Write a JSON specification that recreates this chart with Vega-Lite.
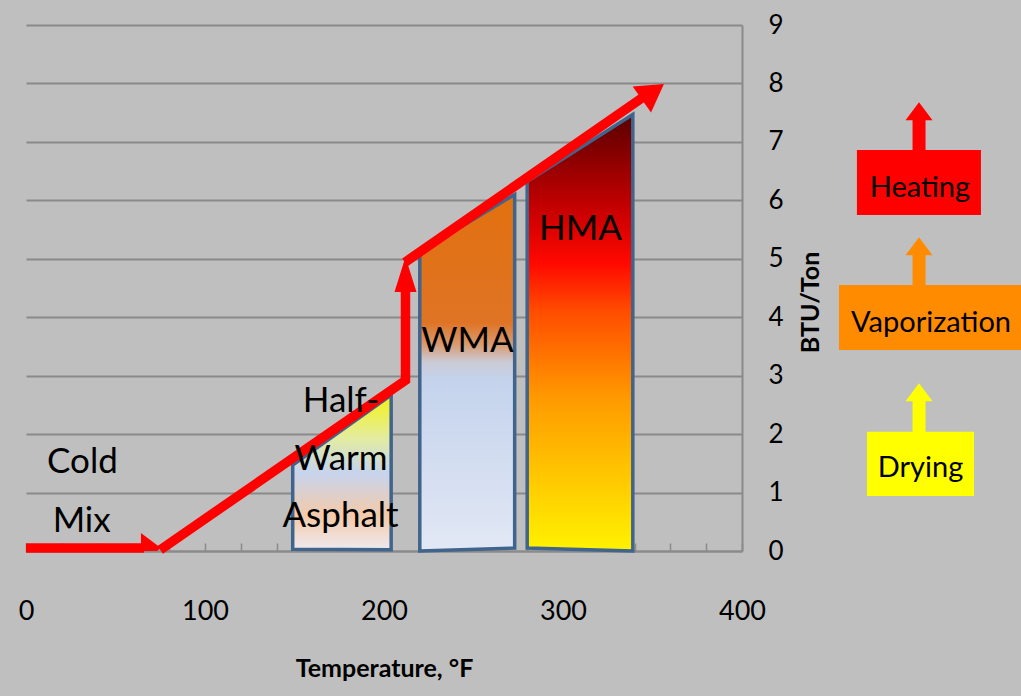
{
  "$schema": "https://vega.github.io/schema/vega-lite/v6.json",
  "width": 716,
  "height": 526,
  "autosize": {"type": "none"},
  "padding": {"left": 26, "top": 25, "right": 279, "bottom": 145},
  "background": "#bfbfbf",
  "config": {
    "view": {"stroke": null},
    "font": "Lato, sans-serif",
    "text": {"font": "Lato, sans-serif"}
  },
  "datasets": {
    "mixes": [
      {"mix": "Half-Warm", "temp": 149, "btu": 1.47, "base": 0.03},
      {"mix": "Half-Warm", "temp": 204, "btu": 2.67, "base": 0.02},
      {"mix": "WMA", "temp": 220, "btu": 5.12, "base": 0.0},
      {"mix": "WMA", "temp": 273, "btu": 6.1, "base": 0.05},
      {"mix": "HMA", "temp": 280, "btu": 6.32, "base": 0.05},
      {"mix": "HMA", "temp": 339, "btu": 7.47, "base": 0.0}
    ],
    "arrowPath": [
      {"seg": "cold", "step": 1, "temp": 0, "btu": 0.05},
      {"seg": "cold", "step": 2, "temp": 66, "btu": 0.05},
      {"seg": "rise", "step": 1, "temp": 75, "btu": 0.02},
      {"seg": "rise", "step": 2, "temp": 212, "btu": 2.92},
      {"seg": "rise", "step": 3, "temp": 212, "btu": 4.5},
      {"seg": "climb", "step": 1, "temp": 211.7, "btu": 4.94},
      {"seg": "climb", "step": 2, "temp": 346, "btu": 7.79}
    ],
    "arrowTips": [
      {"seg": "cold", "temp": 75.4, "btu": 0.05},
      {"seg": "rise", "temp": 212, "btu": 5.03},
      {"seg": "climb", "temp": 356.4, "btu": 7.99}
    ],
    "mixLabels": [
      {"text": "Cold", "temp": 31.5, "btu": 1.335},
      {"text": "Mix", "temp": 31.1, "btu": 0.325},
      {"text": "Half-", "temp": 176, "btu": 2.38},
      {"text": "Warm", "temp": 176, "btu": 1.386},
      {"text": "Asphalt", "temp": 175.7, "btu": 0.41},
      {"text": "WMA", "temp": 246.6, "btu": 3.405},
      {"text": "HMA", "temp": 309.8, "btu": 5.32}
    ],
    "stageBoxes": [
      {"stage": "Heating", "temp": 464.2, "temp_end": 533.5, "btu": 5.75, "btu_end": 6.86},
      {"stage": "Vaporization", "temp": 454.2, "temp_end": 556, "btu": 3.44, "btu_end": 4.55},
      {"stage": "Drying", "temp": 469.8, "temp_end": 529.6, "btu": 0.94, "btu_end": 2.04}
    ],
    "stageShafts": [
      {"stage": "Heating", "temp": 498.9, "btu": 6.85, "btu_end": 7.4},
      {"stage": "Vaporization", "temp": 498.9, "btu": 4.54, "btu_end": 5.11},
      {"stage": "Drying", "temp": 498.9, "btu": 2.03, "btu_end": 2.6}
    ],
    "stageTips": [
      {"stage": "Heating", "temp": 498.9, "btu": 7.68},
      {"stage": "Vaporization", "temp": 498.9, "btu": 5.37},
      {"stage": "Drying", "temp": 498.9, "btu": 2.87}
    ],
    "stageLabels": [
      {"stage": "Heating", "temp": 499.4, "btu": 6.06},
      {"stage": "Vaporization", "temp": 505.6, "btu": 3.75},
      {"stage": "Drying", "temp": 499.7, "btu": 1.27}
    ]
  },
  "encoding": {
    "x": {
      "field": "temp",
      "type": "quantitative",
      "scale": {"domain": [0, 400], "nice": false, "zero": false},
      "axis": {
        "title": "Temperature, °F",
        "values": [0, 20, 40, 60, 80, 100, 120, 140, 160, 180, 200, 220, 240, 260, 280, 300, 320, 340, 360, 380, 400],
        "labelExpr": "datum.value % 100 === 0 ? datum.label : ''",
        "grid": false,
        "domainColor": "#8a8a8a",
        "domainWidth": 2,
        "tickColor": "#8a8a8a",
        "tickWidth": 1.5,
        "tickSize": -8,
        "labelFont": "Lato, sans-serif",
        "labelFontSize": 27,
        "labelColor": "#000000",
        "labelPadding": 55,
        "labelFlush": false,
        "labelOverlap": false,
        "titleFont": "Lato, sans-serif",
        "titleFontSize": 25,
        "titleFontWeight": "bold",
        "titleColor": "#000000",
        "titlePadding": 32
      }
    },
    "y": {
      "field": "btu",
      "type": "quantitative",
      "scale": {"domain": [0, 9], "nice": false},
      "axis": {
        "orient": "right",
        "title": "BTU/Ton",
        "values": [0, 1, 2, 3, 4, 5, 6, 7, 8, 9],
        "grid": true,
        "gridColor": "#8a8a8a",
        "gridWidth": 2,
        "domainColor": "#8a8a8a",
        "domainWidth": 2,
        "ticks": false,
        "labelFont": "Lato, sans-serif",
        "labelFontSize": 26,
        "labelColor": "#000000",
        "labelPadding": 26,
        "titleFont": "Lato, sans-serif",
        "titleFontSize": 25,
        "titleFontWeight": "bold",
        "titleColor": "#000000",
        "titleAngle": 270,
        "titleBaseline": "top",
        "titlePadding": 15,
        "titleY": 277
      }
    }
  },
  "layer": [
    {
      "data": {"name": "mixes"},
      "transform": [{"filter": "datum.mix === 'Half-Warm'"}],
      "mark": {
        "type": "area",
        "opacity": 1,
        "stroke": "#41648c",
        "strokeWidth": 3.5,
        "strokeJoin": "miter",
        "fill": {
          "gradient": "linear", "x1": 0, "y1": 1, "x2": 0, "y2": 0,
          "stops": [
            {"offset": 0, "color": "#eeeaf0"},
            {"offset": 0.22, "color": "#f4caa9"},
            {"offset": 0.5, "color": "#c6d4ee"},
            {"offset": 0.72, "color": "#e4eca0"},
            {"offset": 1, "color": "#f4f212"}
          ]
        }
      },
      "encoding": {"y2": {"field": "base"}}
    },
    {
      "data": {"name": "mixes"},
      "transform": [{"filter": "datum.mix === 'WMA'"}],
      "mark": {
        "type": "area",
        "opacity": 1,
        "stroke": "#41648c",
        "strokeWidth": 3.5,
        "strokeJoin": "miter",
        "fill": {
          "gradient": "linear", "x1": 0, "y1": 1, "x2": 0, "y2": 0,
          "stops": [
            {"offset": 0, "color": "#e2e8f5"},
            {"offset": 0.48, "color": "#c4d3ec"},
            {"offset": 0.53, "color": "#cbcbd6"},
            {"offset": 0.58, "color": "#d89a70"},
            {"offset": 0.64, "color": "#df7425"},
            {"offset": 1, "color": "#e2700e"}
          ]
        }
      },
      "encoding": {"y2": {"field": "base"}}
    },
    {
      "data": {"name": "mixes"},
      "transform": [{"filter": "datum.mix === 'HMA'"}],
      "mark": {
        "type": "area",
        "opacity": 1,
        "stroke": "#41648c",
        "strokeWidth": 3.5,
        "strokeJoin": "miter",
        "fill": {
          "gradient": "linear", "x1": 0, "y1": 1, "x2": 0, "y2": 0,
          "stops": [
            {"offset": 0, "color": "#fff200"},
            {"offset": 0.12, "color": "#ffd400"},
            {"offset": 0.35, "color": "#ff9a00"},
            {"offset": 0.55, "color": "#ff4c00"},
            {"offset": 0.66, "color": "#ff0800"},
            {"offset": 0.78, "color": "#c80000"},
            {"offset": 0.9, "color": "#8c0000"},
            {"offset": 1, "color": "#580000"}
          ]
        }
      },
      "encoding": {"y2": {"field": "base"}}
    },
    {
      "data": {"name": "arrowPath"},
      "mark": {"type": "line", "color": "#ff0000", "strokeWidth": 9.5, "strokeCap": "butt", "strokeJoin": "miter"},
      "encoding": {
        "detail": {"field": "seg"},
        "order": {"field": "step", "type": "quantitative"}
      }
    },
    {
      "data": {"name": "arrowTips"},
      "transform": [{"filter": "datum.seg === 'cold'"}],
      "mark": {"type": "point", "clip": true, "filled": true, "opacity": 1, "color": "#ff0000", "strokeWidth": 0, "shape": "M0,0L-1,-0.75L-1,0.75Z", "size": 1600, "angle": 0},
      "encoding": {}
    },
    {
      "data": {"name": "arrowTips"},
      "transform": [{"filter": "datum.seg === 'rise'"}],
      "mark": {"type": "point", "filled": true, "opacity": 1, "color": "#ff0000", "strokeWidth": 0, "shape": "M0,0L-1,-0.3143L-1,0.3143Z", "size": 4900, "angle": -90},
      "encoding": {}
    },
    {
      "data": {"name": "arrowTips"},
      "transform": [{"filter": "datum.seg === 'climb'"}],
      "mark": {"type": "point", "filled": true, "opacity": 1, "color": "#ff0000", "strokeWidth": 0, "shape": "M0,0L-1,-0.5926L-1,0.5926Z", "size": 2916, "angle": -35},
      "encoding": {}
    },
    {
      "data": {"name": "mixLabels"},
      "mark": {"type": "text", "fontSize": 35, "color": "#000000", "align": "center", "baseline": "alphabetic"},
      "encoding": {"text": {"field": "text"}}
    },
    {
      "data": {"name": "stageShafts"},
      "mark": {"type": "rule", "strokeWidth": 13, "strokeCap": "butt"},
      "encoding": {
        "y2": {"field": "btu_end"},
        "color": {"field": "stage", "type": "nominal", "scale": {"domain": ["Drying", "Vaporization", "Heating"], "range": ["#ffff00", "#ff8c00", "#ff0000"]}, "legend": null}
      }
    },
    {
      "data": {"name": "stageTips"},
      "mark": {"type": "point", "filled": true, "opacity": 1, "strokeWidth": 0, "shape": "M0,0L-1,-0.75L-1,0.75Z", "size": 1296, "angle": -90},
      "encoding": {
        "color": {"field": "stage", "type": "nominal", "legend": null}
      }
    },
    {
      "data": {"name": "stageBoxes"},
      "mark": {"type": "rect", "opacity": 1},
      "encoding": {
        "x2": {"field": "temp_end"},
        "y2": {"field": "btu_end"},
        "color": {"field": "stage", "type": "nominal", "legend": null}
      }
    },
    {
      "data": {"name": "stageLabels"},
      "mark": {"type": "text", "fontSize": 29, "color": "#000000", "align": "center", "baseline": "alphabetic"},
      "encoding": {"text": {"field": "stage"}}
    }
  ]
}
